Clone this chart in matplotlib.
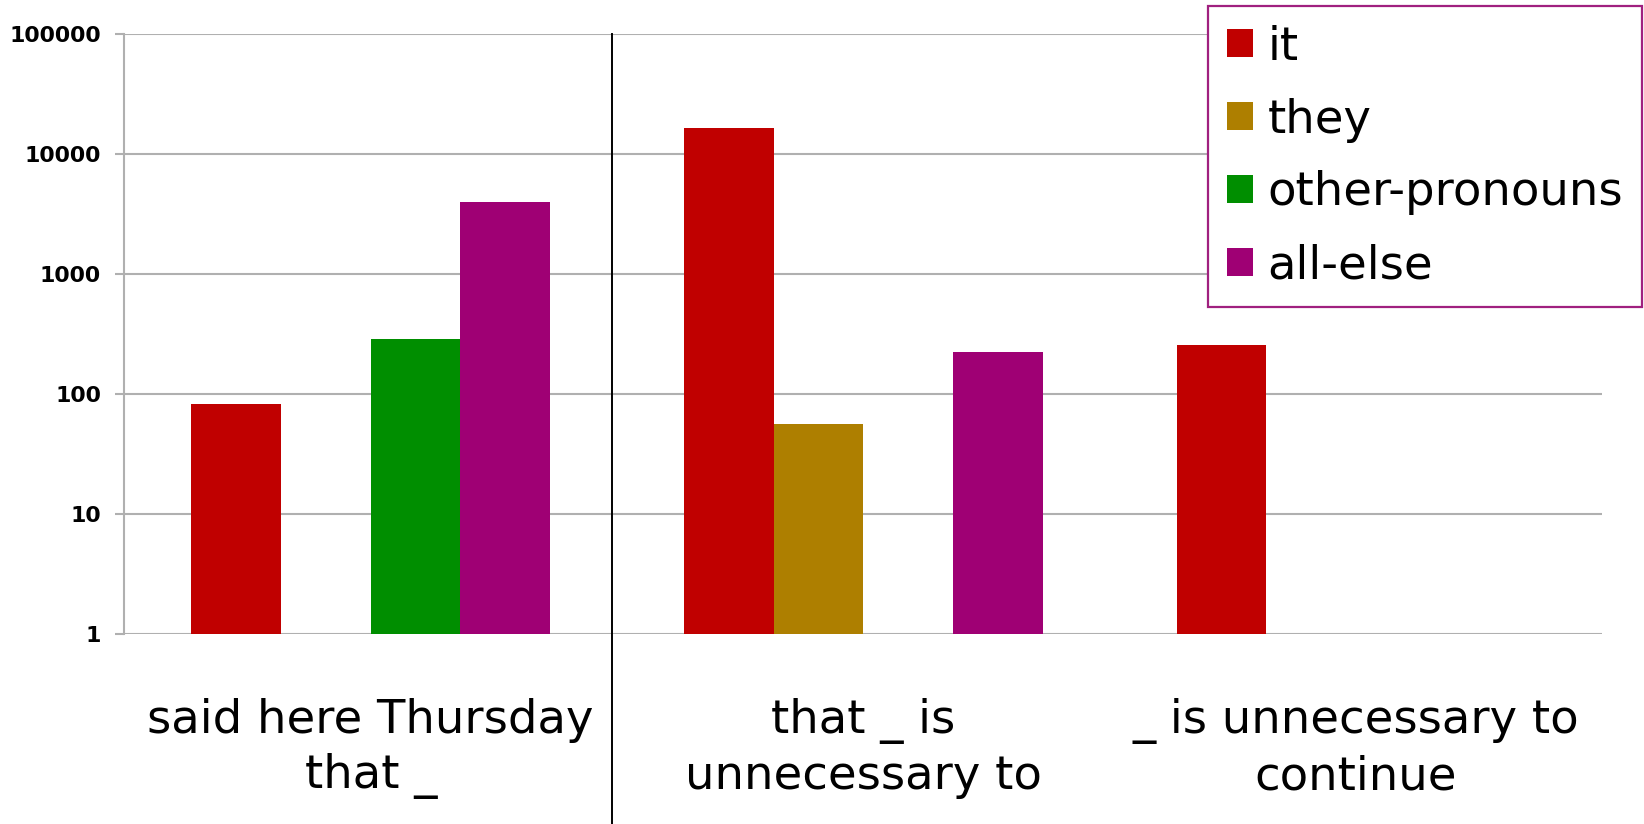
import numpy as np
import matplotlib
matplotlib.use("Agg")
import matplotlib.pyplot as plt
from matplotlib.patches import Rectangle
from matplotlib.ticker import FixedLocator, NullLocator
import matplotlib.transforms as mtransforms

plt.rcParams['font.family'] = ['DejaVu Sans']

# Contexts on the x axis
categories = ["said here Thursday\nthat _",
              "that _ is\nunnecessary to",
              "_ is unnecessary to\ncontinue"]

# Counts per filler (NaN = no occurrences)
series_names = ["it", "they", "other-pronouns", "all-else"]
it_counts = [83, 16400, 254]
they_counts = [np.nan, 56, np.nan]
other_pronoun_counts = [290, np.nan, np.nan]
all_else_counts = [3950, 225, np.nan]
series_values = [it_counts, they_counts, other_pronoun_counts, all_else_counts]
series_colors = ["#c00000", "#ae7f00", "#008e00", "#9f0074"]

y_ticks = [1, 10, 100, 1000, 10000, 100000]
y_tick_labels = ["1", "10", "100", "1000", "10000", "100000"]

fig = plt.figure(figsize=(16.44, 8.24), dpi=100)
ax = fig.add_axes([0.0757, 0.2302, 0.8988, 0.7289])

x = np.arange(len(categories))
bar_w = 0.182
for i, (vals, col) in enumerate(zip(series_values, series_colors)):
    ax.bar(x + (i - 1.5) * bar_w, vals, width=bar_w, color=col,
           linewidth=0, zorder=3)

ax.set_yscale("log")
ax.set_ylim(1, 100000)
ax.set_xlim(-0.5, len(categories) - 0.5)

ax.yaxis.set_major_locator(FixedLocator(y_ticks))
ax.yaxis.set_minor_locator(NullLocator())
ax.set_yticklabels(y_tick_labels, fontsize=15.8, fontweight="bold")
ax.tick_params(axis="y", length=6.8, width=1.5, color="#b0b0b0", pad=10.0)

ax.set_xticks(x)
ax.set_xticklabels(categories, fontsize=33.5, linespacing=1.29)
ax.tick_params(axis="x", length=0, pad=46)

ax.yaxis.grid(True, color="#b0b0b0", linewidth=1.5, zorder=0)
ax.set_axisbelow(True)
for side in ("top", "right", "bottom"):
    ax.spines[side].set_visible(False)
ax.spines["left"].set_color("#b0b0b0")
ax.spines["left"].set_linewidth(1.5)

# Separator between the first context and the others
trans = mtransforms.blended_transform_factory(ax.transData, ax.transAxes)
ax.plot([0.49, 0.49], [1.0, -0.35], transform=trans, color="black",
        linewidth=1.4, clip_on=False, zorder=4)

handles = [Rectangle((0, 0), 1, 1, facecolor=c, edgecolor="none")
           for c in series_colors]
leg = ax.legend(handles, series_names, loc="upper right",
                bbox_to_anchor=(1641.5 / 1644, 1 - 6 / 824),
                bbox_transform=fig.transFigure, fontsize=33.5,
                handlelength=0.57, handleheight=0.57, handletextpad=0.3,
                labelspacing=0.6, borderpad=0.4, borderaxespad=0,
                fancybox=False, framealpha=1, edgecolor="#a0207f")
leg.get_frame().set_linewidth(1.6)
leg.set_zorder(10)

fig.savefig("out.png", dpi=100, facecolor="white")
